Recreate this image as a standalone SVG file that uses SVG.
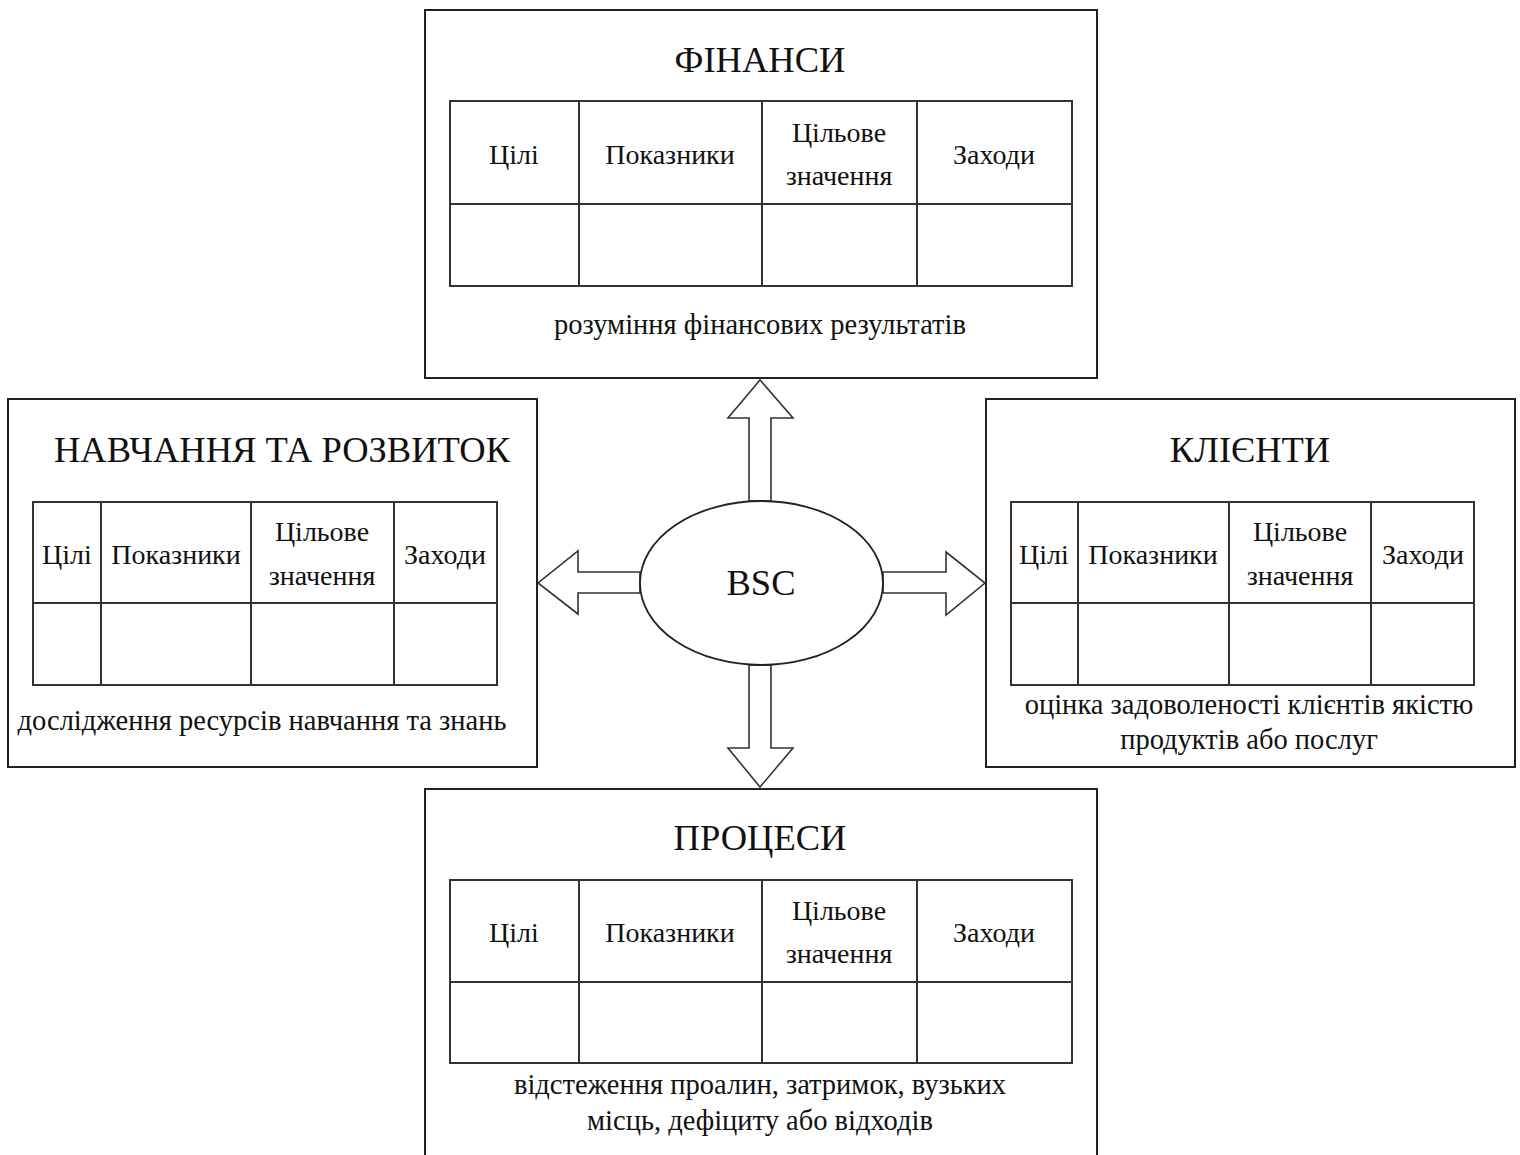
<svg xmlns="http://www.w3.org/2000/svg" width="1520" height="1155" viewBox="0 0 1520 1155">
  <style>
    .frame { fill: #fff; stroke: #222; stroke-width: 2; }
    .grid { fill: none; stroke: #333; stroke-width: 2; }
    .arrow { fill: #fff; stroke: #333; stroke-width: 1.6; stroke-linejoin: miter; }
    .oval { fill: #fff; stroke: #222; stroke-width: 1.8; }
    text { font-family: "Liberation Serif", "Times New Roman", serif; fill: #111; text-anchor: middle; }
    .title { font-size: 36.5px; }
    .cell { font-size: 28px; }
    .note { font-size: 28.5px; }
  </style>
  <rect width="1520" height="1155" fill="#fff"/>

  <!-- block arrows from the centre -->
  <g id="connectors">
    <polygon class="arrow" points="749,501 749,418 728,418 760,380 793,418 771,418 771,501"/>
    <polygon class="arrow" points="749,665 749,748 728,748 760,787 793,748 771,748 771,665"/>
    <polygon class="arrow" points="640,572 578,572 578,551 538,583 578,614 578,593 640,593"/>
    <polygon class="arrow" points="883,572 946,572 946,552 985,583 946,615 946,593 883,593"/>
  </g>

  <g id="bsc">
    <ellipse class="oval" cx="761.5" cy="583" rx="121.5" ry="82"/>
    <text class="title" x="761" y="595">BSC</text>
  </g>

  <g id="finance">
    <rect class="frame" x="425" y="10" width="672" height="368"/>
    <text class="title" x="760" y="72">ФІНАНСИ</text>
    <rect class="grid" x="450" y="101" width="622" height="185"/>
    <path class="grid" d="M450,204H1072M579,101V286M762,101V286M917,101V286"/>
    <text class="cell" x="514" y="164">Цілі</text>
    <text class="cell" x="670" y="164">Показники</text>
    <text class="cell" x="839" y="142">Цільове</text>
    <text class="cell" x="839" y="185">значення</text>
    <text class="cell" x="994" y="164">Заходи</text>
    <text class="note" x="760" y="334">розуміння фінансових результатів</text>
  </g>

  <g id="learning">
    <rect class="frame" x="8" y="399" width="529" height="368"/>
    <text class="title" x="282" y="462">НАВЧАННЯ ТА РОЗВИТОК</text>
    <rect class="grid" x="33" y="502" width="464" height="183"/>
    <path class="grid" d="M33,603H497M101,502V685M251,502V685M394,502V685"/>
    <text class="cell" x="67" y="564">Цілі</text>
    <text class="cell" x="176" y="564">Показники</text>
    <text class="cell" x="322" y="541">Цільове</text>
    <text class="cell" x="322" y="585">значення</text>
    <text class="cell" x="445" y="564">Заходи</text>
    <text class="note" x="262" y="730">дослідження ресурсів навчання та знань</text>
  </g>

  <g id="clients">
    <rect class="frame" x="986" y="399" width="529" height="368"/>
    <text class="title" x="1250" y="462">КЛІЄНТИ</text>
    <rect class="grid" x="1011" y="502" width="463" height="183"/>
    <path class="grid" d="M1011,603H1474M1078,502V685M1229,502V685M1371,502V685"/>
    <text class="cell" x="1044" y="564">Цілі</text>
    <text class="cell" x="1153" y="564">Показники</text>
    <text class="cell" x="1300" y="541">Цільове</text>
    <text class="cell" x="1300" y="585">значення</text>
    <text class="cell" x="1423" y="564">Заходи</text>
    <text class="note" x="1249" y="714">оцінка задоволеності клієнтів якістю</text>
    <text class="note" x="1249" y="749">продуктів або послуг</text>
  </g>

  <g id="processes">
    <!-- frame runs past the lower edge of the canvas -->
    <rect class="frame" x="425" y="789" width="672" height="380"/>
    <text class="title" x="760" y="850">ПРОЦЕСИ</text>
    <rect class="grid" x="450" y="880" width="622" height="183"/>
    <path class="grid" d="M450,982H1072M579,880V1063M762,880V1063M917,880V1063"/>
    <text class="cell" x="514" y="942">Цілі</text>
    <text class="cell" x="670" y="942">Показники</text>
    <text class="cell" x="839" y="920">Цільове</text>
    <text class="cell" x="839" y="963">значення</text>
    <text class="cell" x="994" y="942">Заходи</text>
    <text class="note" x="760" y="1094">відстеження проалин, затримок, вузьких</text>
    <text class="note" x="760" y="1130">місць, дефіциту або відходів</text>
  </g>
</svg>
